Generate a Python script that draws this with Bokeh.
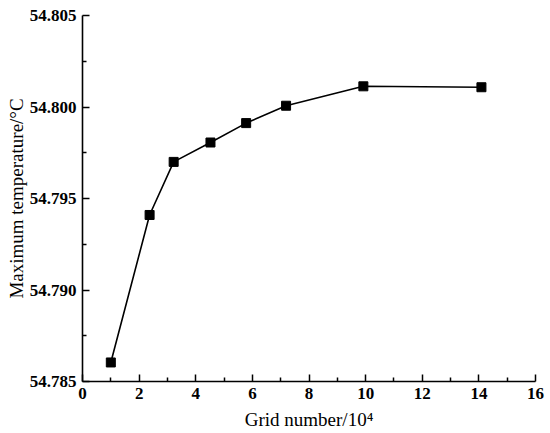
from bokeh.plotting import figure
from bokeh.models import Range1d, FixedTicker, PrintfTickFormatter, ColumnDataSource
from bokeh.embed import file_html
from bokeh.resources import INLINE

grid_number = [1.0, 2.37, 3.22, 4.52, 5.78, 7.19, 9.92, 14.09]
max_temp = [54.78604, 54.79410, 54.79700, 54.79806, 54.79912, 54.80007, 54.80113, 54.80108]

x_ticks = [0, 2, 4, 6, 8, 10, 12, 14, 16]
x_minor = [1, 3, 5, 7, 9, 11, 13, 15]
y_ticks = [54.785, 54.790, 54.795, 54.800, 54.805]
y_minor = [54.7875, 54.7925, 54.7975, 54.8025]

FONT = "Liberation Serif"

p = figure(width=550, height=433, output_backend="svg", toolbar_location=None,
           x_range=Range1d(0, 16), y_range=Range1d(54.785, 54.805),
           min_border_left=82, min_border_top=15, min_border_right=15, min_border_bottom=52)
p.xgrid.visible = False
p.ygrid.visible = False
p.outline_line_color = None
p.background_fill_color = "white"
p.border_fill_color = "white"

src = ColumnDataSource(dict(x=grid_number, y=max_temp))
p.line("x", "y", source=src, line_color="black", line_width=1.6)
p.scatter("x", "y", source=src, marker="square", size=9, fill_color="black", line_color="black")

p.xaxis.ticker = FixedTicker(ticks=x_ticks, minor_ticks=x_minor)
p.yaxis.ticker = FixedTicker(ticks=y_ticks, minor_ticks=y_minor)
p.yaxis.formatter = PrintfTickFormatter(format="%.3f")

p.xaxis.axis_label = "Grid number/10\u2074"
p.yaxis.axis_label = "Maximum temperature/\u00b0C"

for ax in (p.xaxis, p.yaxis):
    ax.axis_line_color = "black"
    ax.axis_line_width = 1.6
    ax.major_tick_line_color = "black"
    ax.minor_tick_line_color = "black"
    ax.major_tick_line_width = 1.5
    ax.minor_tick_line_width = 1.5
    ax.major_tick_in = 7
    ax.major_tick_out = 0
    ax.minor_tick_in = 4
    ax.minor_tick_out = 0
    ax.major_label_text_font = FONT
    ax.major_label_text_font_style = "bold"
    ax.major_label_text_font_size = "17px"
    ax.major_label_text_color = "black"
    ax.axis_label_text_font = FONT
    ax.axis_label_text_font_style = "normal"
    ax.axis_label_text_font_size = "19px"
    ax.axis_label_text_color = "black"

p.xaxis.major_label_standoff = 6
p.xaxis.axis_label_standoff = 7
p.yaxis.major_label_standoff = 6
p.yaxis.axis_label_standoff = 0

open("out.html", "w").write(file_html(p, INLINE))
